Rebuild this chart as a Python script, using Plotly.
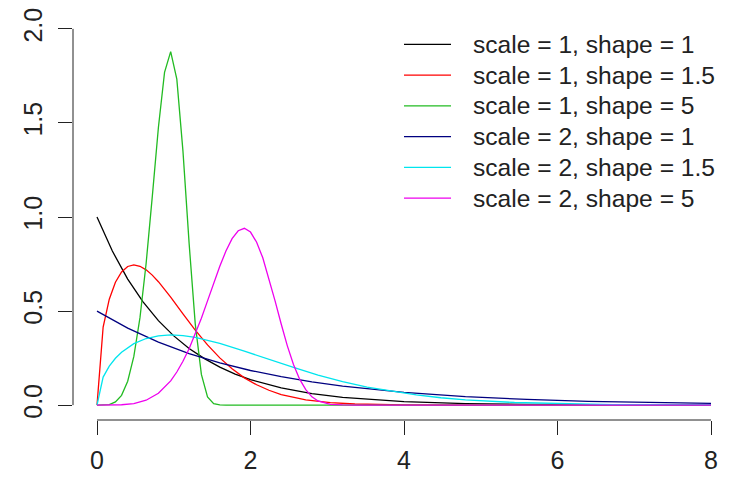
import plotly.graph_objects as go

# ---------------- data ----------------
labels = ["scale = 1, shape = 1", "scale = 1, shape = 1.5", "scale = 1, shape = 5",
          "scale = 2, shape = 1", "scale = 2, shape = 1.5", "scale = 2, shape = 5"]
colors = ["#000000", "#FF0000", "#22BB22", "#000080", "#00E5EE", "#EE00EE"]

x_s1_k1 = [0, 0.2, 0.4, 0.6, 0.8, 1.0, 1.2, 1.4, 1.6, 1.8, 2.0, 2.4, 2.8, 3.2, 4.0, 4.8, 5.6, 6.4, 8.0]
y_s1_k1 = [1.000, 0.819, 0.670, 0.549, 0.449, 0.368, 0.301, 0.247, 0.202, 0.165, 0.135, 0.091, 0.061,
           0.041, 0.018, 0.008, 0.004, 0.002, 0.000]

x_s1_k15 = [0, 0.08, 0.16, 0.24, 0.32, 0.40, 0.48, 0.56, 0.64, 0.72, 0.80, 0.96, 1.12, 1.28, 1.44,
            1.60, 1.76, 1.92, 2.08, 2.24, 2.40, 2.72, 3.04, 3.36, 4.0, 4.8, 8.0]
y_s1_k15 = [0, 0.415, 0.563, 0.653, 0.708, 0.737, 0.745, 0.738, 0.719, 0.691, 0.656, 0.574, 0.485,
            0.399, 0.320, 0.251, 0.193, 0.145, 0.108, 0.079, 0.056, 0.028, 0.013, 0.006, 0.001, 0.000, 0.000]

x_s1_k5 = [0, 0.08, 0.16, 0.24, 0.32, 0.40, 0.48, 0.56, 0.64, 0.72, 0.80, 0.88, 0.96, 1.04, 1.12,
           1.20, 1.28, 1.36, 1.44, 1.52, 1.60, 1.68, 8.0]
y_s1_k5 = [0, 0.000, 0.003, 0.017, 0.052, 0.127, 0.259, 0.465, 0.753, 1.107, 1.476, 1.769, 1.879,
           1.733, 1.350, 0.861, 0.432, 0.163, 0.044, 0.008, 0.001, 0.000, 0.000]

x_s2_k1 = [0, 0.4, 0.8, 1.2, 1.6, 2.0, 2.4, 2.8, 3.2, 4.0, 4.8, 5.6, 6.4, 7.2, 8.0]
y_s2_k1 = [0.500, 0.409, 0.335, 0.274, 0.225, 0.184, 0.151, 0.123, 0.101, 0.068, 0.045, 0.030,
           0.020, 0.014, 0.009]

x_s2_k15 = [0, 0.08, 0.16, 0.24, 0.32, 0.48, 0.64, 0.80, 0.96, 1.12, 1.28, 1.44, 1.60, 1.92, 2.24,
            2.56, 2.88, 3.20, 3.52, 3.84, 4.16, 4.48, 4.80, 5.44, 6.08, 6.72, 8.0]
y_s2_k15 = [0, 0.149, 0.207, 0.249, 0.281, 0.327, 0.354, 0.368, 0.373, 0.369, 0.360, 0.346, 0.328,
            0.287, 0.243, 0.200, 0.160, 0.125, 0.096, 0.073, 0.054, 0.039, 0.028, 0.014, 0.007,
            0.003, 0.001]

x_s2_k5 = [0, 0.16, 0.32, 0.48, 0.64, 0.80, 0.96, 1.04, 1.12, 1.20, 1.28, 1.36, 1.44, 1.52, 1.60,
           1.68, 1.76, 1.84, 1.92, 2.00, 2.08, 2.16, 2.24, 2.32, 2.40, 2.48, 2.56, 2.64, 2.72, 2.80,
           2.88, 3.04, 3.20, 3.36, 8.0]
y_s2_k5 = [0, 0.000, 0.002, 0.008, 0.026, 0.063, 0.129, 0.176, 0.233, 0.300, 0.377, 0.462, 0.554,
           0.647, 0.738, 0.819, 0.885, 0.927, 0.940, 0.920, 0.866, 0.783, 0.675, 0.554, 0.431, 0.315,
           0.216, 0.138, 0.082, 0.044, 0.022, 0.004, 0.001, 0.000, 0.000]

x_ticks = [0, 2, 4, 6, 8]
x_ticktext = ["0", "2", "4", "6", "8"]
y_ticks = [0, 0.5, 1.0, 1.5, 2.0]
y_ticktext = ["0.0", "0.5", "1.0", "1.5", "2.0"]

series_x = [x_s1_k1, x_s1_k15, x_s1_k5, x_s2_k1, x_s2_k15, x_s2_k5]
series_y = [y_s1_k1, y_s1_k15, y_s1_k5, y_s2_k1, y_s2_k15, y_s2_k5]

# ---------------- layout geometry (in window pixels; page body has an 8px margin) ----------------
OFF = 8
WIN_W, WIN_H = 730, 482
W, H = WIN_W - OFF, WIN_H - OFF
PLOT_L, PLOT_R, PLOT_T, PLOT_B = 73, 730, 11, 420   # plot area in window pixels
ML, MR, MT, MB = PLOT_L - OFF, WIN_W - PLOT_R, PLOT_T - OFF, WIN_H - PLOT_B
X0_PX, XPU = 97, 76.75       # window pixel of x=0, pixels per unit
Y0_PX, YPU = 405, 189.5      # window pixel of y=0, pixels per unit
xrange_ = [(PLOT_L - X0_PX) / XPU, (PLOT_R - X0_PX) / XPU]
yrange_ = [(Y0_PX - PLOT_B) / YPU, (Y0_PX - PLOT_T) / YPU]

def px2paper_x(px):
    return (px - PLOT_L) / (PLOT_R - PLOT_L)

def px2paper_y(py):
    return (PLOT_B - py) / (PLOT_B - PLOT_T)

FONT = "Liberation Sans, Arial, Helvetica, sans-serif"
AX_COL = "#222222"

fig = go.Figure()
for xs, ys, c, lab in zip(series_x, series_y, colors, labels):
    fig.add_trace(go.Scatter(x=xs, y=ys, mode="lines", name=lab,
                             line=dict(color=c, width=1.3), showlegend=False,
                             cliponaxis=False))

shapes = [
    dict(type="line", xref="x", yref="paper", x0=x_ticks[0], x1=x_ticks[-1], y0=0, y1=0,
         line=dict(color=AX_COL, width=1)),
    dict(type="line", xref="paper", yref="y", x0=0, x1=0, y0=y_ticks[0], y1=y_ticks[-1],
         line=dict(color=AX_COL, width=1)),
]
annotations = []
row0, drow = 41.5, 31
for i, (c, lab) in enumerate(zip(colors, labels)):
    ry = row0 + i * drow
    shapes.append(dict(type="line", xref="paper", yref="paper",
                       x0=px2paper_x(404), x1=px2paper_x(451),
                       y0=px2paper_y(ry), y1=px2paper_y(ry),
                       line=dict(color=c, width=1.3)))
    annotations.append(dict(xref="paper", yref="paper", x=px2paper_x(471), y=px2paper_y(ry),
                            xanchor="left", yanchor="middle", text=lab, showarrow=False,
                            font=dict(family=FONT, size=24.6, color=AX_COL)))

fig.update_layout(
    width=W, height=H,
    margin=dict(l=ML, r=MR, t=MT, b=MB, pad=0),
    paper_bgcolor="white", plot_bgcolor="white",
    shapes=shapes, annotations=annotations,
    xaxis=dict(range=xrange_, tickvals=x_ticks, ticktext=x_ticktext, showgrid=False,
               zeroline=False, showline=False, ticks="outside", ticklen=14, tickwidth=1,
               tickcolor=AX_COL, ticklabelstandoff=4, ticklabeloverflow="allow",
               tickfont=dict(family=FONT, size=25, color=AX_COL)),
    yaxis=dict(range=yrange_, tickvals=y_ticks, ticktext=y_ticktext, showgrid=False,
               zeroline=False, showline=False, ticks="outside", ticklen=14, tickwidth=1,
               tickcolor=AX_COL, tickangle=-90, ticklabelstandoff=6, ticklabeloverflow="allow",
               tickfont=dict(family=FONT, size=25, color=AX_COL)),
)

fig.write_html("out.html")
